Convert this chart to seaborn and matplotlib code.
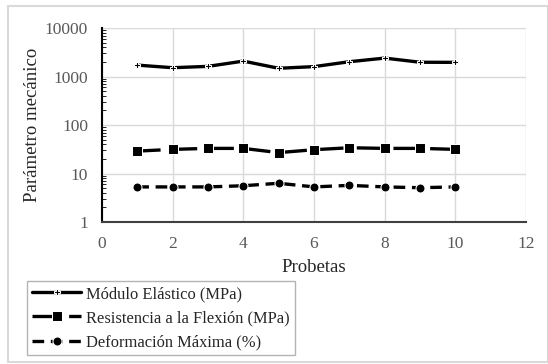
import numpy as np
import pandas as pd
import matplotlib
matplotlib.use("Agg")
import matplotlib.pyplot as plt
import matplotlib.patches as mpatches
import seaborn as sns

probetas = [1, 2, 3, 4, 5, 6, 7, 8, 9, 10]
modulo = [1720, 1520, 1620, 2080, 1480, 1600, 2020, 2400, 1970, 1960]
resistencia = [29, 31.5, 33, 33, 27, 31, 34, 33, 33, 31.5]
deformacion = [5.3, 5.3, 5.3, 5.6, 6.3, 5.3, 5.7, 5.3, 5.1, 5.3]

labels = ["Módulo Elástico (MPa)", "Resistencia a la Flexión (MPa)", "Deformación Máxima (%)"]

df = pd.DataFrame({"Probetas": probetas, labels[0]: modulo,
                   labels[1]: resistencia, labels[2]: deformacion})

sns.set_style("white")
plt.rcParams["font.family"] = ["Liberation Serif", "DejaVu Serif"]

fig = plt.figure(figsize=(5.48, 3.64), dpi=100)
ax = fig.add_axes([0.186, 0.39, 0.774, 0.533])

sns.lineplot(data=df, x="Probetas", y=labels[0], ax=ax, color="black", lw=2.4,
             marker="P", markersize=5, label=labels[0])
sns.lineplot(data=df, x="Probetas", y=labels[1], ax=ax, color="black", lw=2.4,
             marker="s", markersize=7, dashes=(7, 4), label=labels[1])
sns.lineplot(data=df, x="Probetas", y=labels[2], ax=ax, color="black", lw=2.4,
             marker="o", markersize=6.5, dashes=(3.5, 2), label=labels[2])

ax.set_yscale("log")
ax.set_ylim(1, 10000)
ax.set_xlim(0, 12)
ax.set_xticks(range(0, 13, 2))
ax.set_yticks([1, 10, 100, 1000, 10000])
ax.set_yticklabels(["1", "10", "100", "1000", "10000"])
ax.grid(True, color="#d9d9d9", lw=1)
ax.set_axisbelow(True)
for s in ["top", "right"]:
    ax.spines[s].set_visible(False)
ax.spines["left"].set_color("black")
ax.spines["left"].set_linewidth(1.5)
ax.spines["bottom"].set_color("#404040")
ax.spines["bottom"].set_linewidth(1.5)
ax.tick_params(axis="both", labelsize=12.5, colors="#595959", length=0)
ax.tick_params(axis="y", pad=10)
ax.tick_params(axis="x", pad=10)
ax.tick_params(axis="y", which="minor", left=True, length=3, color="black", direction="in")

ax.set_xlabel("Probetas", fontsize=13.5, color="#262626", labelpad=5)
ax.set_ylabel("Parámetro mecánico", fontsize=13.5, color="#262626", labelpad=3)

leg = ax.legend(loc="upper left", bbox_to_anchor=(0.049, 0.228), bbox_transform=fig.transFigure,
                frameon=True, fancybox=False, edgecolor="#a0a0a0", fontsize=11.9,
                handlelength=3.0, handletextpad=0.3, borderpad=0.3, labelspacing=0.5,
                borderaxespad=0)
leg.get_frame().set_linewidth(1)

fig.patches.append(mpatches.Rectangle((0.015, 0.005), 0.985, 0.978, transform=fig.transFigure,
                                      fill=False, edgecolor="#d9d9d9", lw=1.5))

plt.savefig("out.png", dpi=100)
